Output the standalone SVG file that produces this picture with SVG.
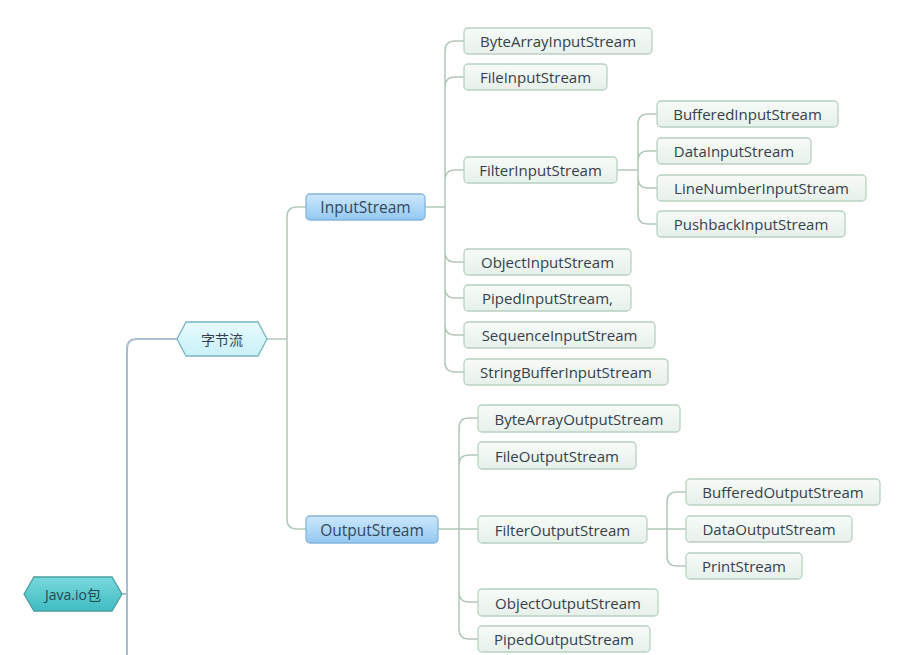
<svg xmlns="http://www.w3.org/2000/svg" width="906" height="655" viewBox="0 0 906 655">
<defs>
<linearGradient id="gLeaf" x1="0" y1="0" x2="0" y2="1"><stop offset="0" stop-color="#f7fbf8"/><stop offset="1" stop-color="#e6f0ea"/></linearGradient>
<linearGradient id="gBlue" x1="0" y1="0" x2="0" y2="1"><stop offset="0" stop-color="#cde8fc"/><stop offset="1" stop-color="#93c8f1"/></linearGradient>
<linearGradient id="gCyan" x1="0" y1="0" x2="0" y2="1"><stop offset="0" stop-color="#e6fbfe"/><stop offset="1" stop-color="#c9f1f8"/></linearGradient>
<linearGradient id="gTeal" x1="0" y1="0" x2="0" y2="1"><stop offset="0" stop-color="#7ad8dc"/><stop offset="1" stop-color="#3fbcc2"/></linearGradient>
</defs>
<style>
.leaf rect{fill:url(#gLeaf);stroke:#b9d1c1;stroke-width:1.3}
.blue rect{fill:url(#gBlue);stroke:#84b5dc;stroke-width:1.3}
text{font-family:"Open Sans","Noto Sans","Noto Sans CJK SC",sans-serif;font-size:15px;fill:#36404c;text-anchor:middle;dominant-baseline:central}
.blue text{font-size:15.5px;fill:#33465c}
.conn path{fill:none;stroke:#b3c7b9;stroke-width:1.5}
.conn path.trunk{stroke:#a9bdd2;stroke-width:2}
</style>
<rect width="906" height="655" fill="#ffffff"/>
<g class="conn">
<path class="trunk" d="M122 594 H127 M127 655 V349 Q127 339 137 339 H177"/>
<path d="M267 339 H287 M287 339 V217 Q287 207 297 207 H306 M287 339 V519 Q287 529 297 529 H306"/>
<path d="M425 207 H445 M445 207 V51 Q445 41 455 41 H464 M445 207 V87 Q445 77 455 77 H464 M445 207 V180 Q445 170 455 170 H464 M445 207 V252 Q445 262 455 262 H464 M445 207 V288 Q445 298 455 298 H464 M445 207 V325 Q445 335 455 335 H464 M445 207 V362 Q445 372 455 372 H464"/>
<path d="M617 170 H638 M638 170 V124 Q638 114 648 114 H657 M638 170 V161 Q638 151 648 151 H657 M638 170 V178 Q638 188 648 188 H657 M638 170 V214 Q638 224 648 224 H657"/>
<path d="M438 529 H459 M459 529 V428 Q459 418 469 418 H478 M459 529 V465 Q459 455 469 455 H478 M459 529 H478 M459 529 V592 Q459 602 469 602 H478 M459 529 V629 Q459 639 469 639 H478"/>
<path d="M647 529 H667 M667 529 V502 Q667 492 677 492 H686 M667 529 H686 M667 529 V556 Q667 566 677 566 H686"/>
</g>
<g id="javaio">
<polygon points="24,594 34,577 112,577 122,594 112,611 34,611" fill="url(#gTeal)" stroke="#4b9ea2" stroke-width="1.3"/>
<text x="73" y="594" style="fill:#1f4a50;font-size:14px">Java.io包</text>
</g>
<g id="zijieliu">
<polygon points="177,339 186,322 258,322 267,339 258,356 186,356" fill="url(#gCyan)" stroke="#7ab4c4" stroke-width="1.3"/>
<text x="222" y="339" style="font-size:14px">字节流</text>
</g>
<g id="inputstream" class="blue"><rect x="306" y="194" width="119" height="26" rx="4"/><text x="365.5" y="207">InputStream</text></g>
<g id="outputstream" class="blue"><rect x="306" y="516" width="132" height="27" rx="4"/><text x="372" y="529.5">OutputStream</text></g>
<g id="bais" class="leaf"><rect x="464" y="28" width="188" height="26" rx="4"/><text x="558" y="41">ByteArrayInputStream</text></g>
<g id="fis" class="leaf"><rect x="464" y="64" width="143" height="26" rx="4"/><text x="535.5" y="77">FileInputStream</text></g>
<g id="filteris" class="leaf"><rect x="464" y="157" width="153" height="26" rx="4"/><text x="540.5" y="170">FilterInputStream</text></g>
<g id="ois" class="leaf"><rect x="464" y="249" width="167" height="26" rx="4"/><text x="547.5" y="262">ObjectInputStream</text></g>
<g id="pis" class="leaf"><rect x="464" y="285" width="167" height="26" rx="4"/><text x="547.5" y="298">PipedInputStream,</text></g>
<g id="sis" class="leaf"><rect x="464" y="322" width="191" height="26" rx="4"/><text x="559.5" y="335">SequenceInputStream</text></g>
<g id="sbis" class="leaf"><rect x="464" y="359" width="204" height="26" rx="4"/><text x="566" y="372">StringBufferInputStream</text></g>
<g id="bis" class="leaf"><rect x="657" y="101" width="181" height="26" rx="4"/><text x="747.5" y="114">BufferedInputStream</text></g>
<g id="dis" class="leaf"><rect x="657" y="138" width="154" height="26" rx="4"/><text x="734" y="151">DataInputStream</text></g>
<g id="lnis" class="leaf"><rect x="657" y="175" width="209" height="26" rx="4"/><text x="761.5" y="188">LineNumberInputStream</text></g>
<g id="pbis" class="leaf"><rect x="657" y="211" width="188" height="26" rx="4"/><text x="751" y="224">PushbackInputStream</text></g>
<g id="baos" class="leaf"><rect x="478" y="405" width="202" height="27" rx="4"/><text x="579" y="418.5">ByteArrayOutputStream</text></g>
<g id="fos" class="leaf"><rect x="478" y="442" width="158" height="27" rx="4"/><text x="557" y="455.5">FileOutputStream</text></g>
<g id="filteros" class="leaf"><rect x="478" y="516" width="169" height="27" rx="4"/><text x="562.5" y="529.5">FilterOutputStream</text></g>
<g id="oos" class="leaf"><rect x="478" y="589" width="180" height="27" rx="4"/><text x="568" y="602.5">ObjectOutputStream</text></g>
<g id="pos" class="leaf"><rect x="478" y="626" width="172" height="26" rx="4"/><text x="564" y="639">PipedOutputStream</text></g>
<g id="bos" class="leaf"><rect x="686" y="479" width="194" height="26" rx="4"/><text x="783" y="492">BufferedOutputStream</text></g>
<g id="dos" class="leaf"><rect x="686" y="516" width="166" height="26" rx="4"/><text x="769" y="529">DataOutputStream</text></g>
<g id="ps" class="leaf"><rect x="686" y="553" width="116" height="26" rx="4"/><text x="744" y="566">PrintStream</text></g>
</svg>
